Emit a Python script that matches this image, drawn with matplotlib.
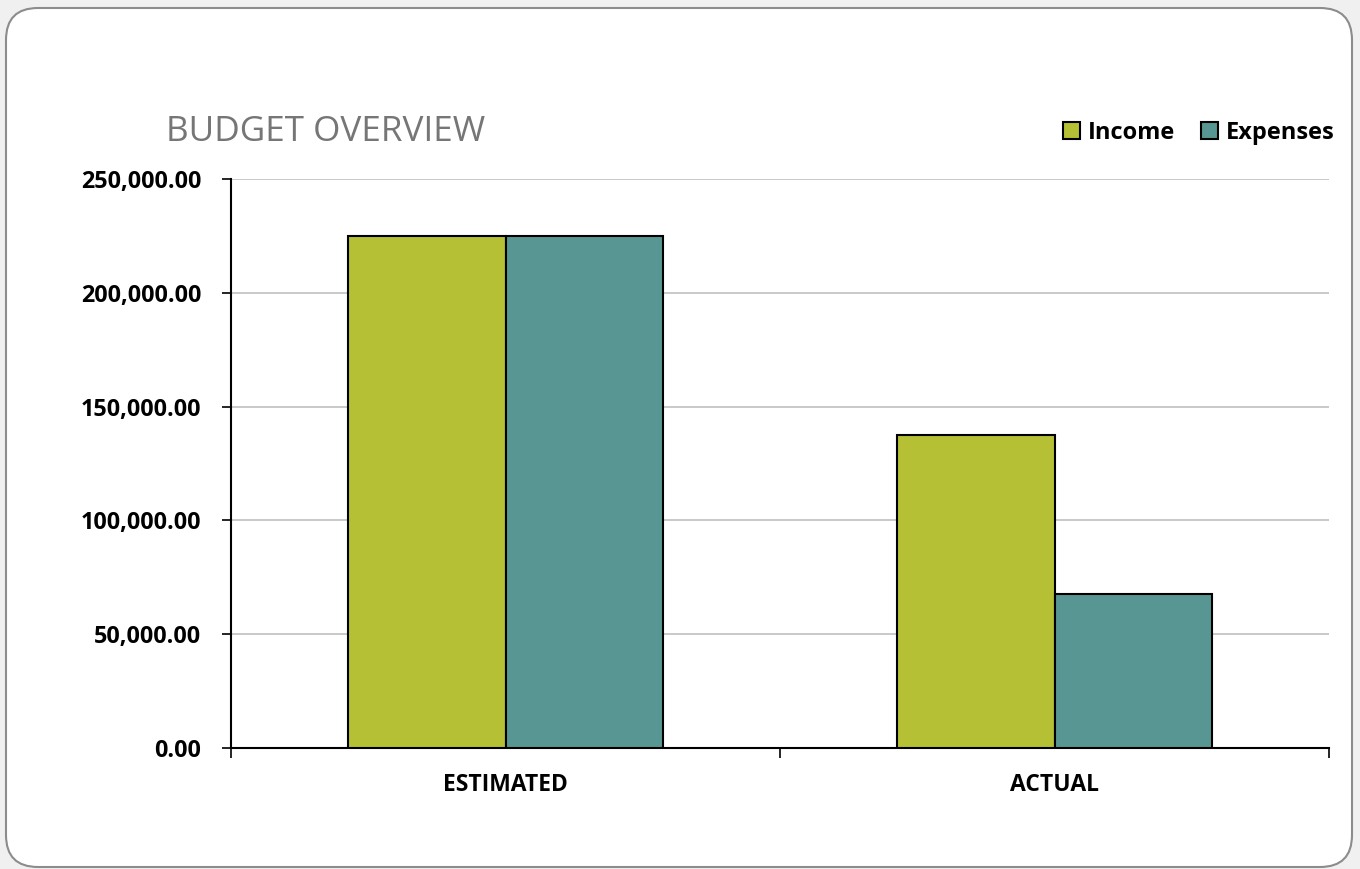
import matplotlib.pyplot as plt
import numpy as np
from matplotlib.patches import FancyBboxPatch, Rectangle
from matplotlib.ticker import FuncFormatter

# data
categories = ["ESTIMATED", "ACTUAL"]
income = [225000, 137500]
expenses = [225000, 67500]
series_names = ["Income", "Expenses"]
colors = ["#b5c035", "#579692"]

plt.rcParams["font.family"] = ["Open Sans", "DejaVu Sans"]

fig = plt.figure(figsize=(13.6, 8.69), dpi=100)
fig.patch.set_facecolor("#f0f0f0")

# rounded frame, drawn in pixel units on a background axes
bg = fig.add_axes([0, 0, 1, 1], zorder=-1)
bg.set_xlim(0, 1360)
bg.set_ylim(869, 0)
bg.axis("off")
frame = FancyBboxPatch((6, 8), 1346, 859,
                       boxstyle="round,pad=0,rounding_size=32",
                       facecolor="white", edgecolor="#8c8c8c", linewidth=1.5)
bg.add_patch(frame)

ax = fig.add_axes([231 / 1360, 1 - 748 / 869, 1098 / 1360, 569 / 869])
ax.set_facecolor("none")

x = np.arange(len(categories))
w = 0.286
ax.bar(x - w / 2, income, w, color=colors[0], edgecolor="black", linewidth=1.5, zorder=3)
ax.bar(x + w / 2, expenses, w, color=colors[1], edgecolor="black", linewidth=1.5, zorder=3)

ax.set_xlim(-0.5, 1.5)
ax.set_ylim(0, 250000)
ax.set_yticks(np.arange(0, 250001, 50000))
ax.yaxis.set_major_formatter(FuncFormatter(lambda v, p: f"{v:,.2f}"))
ax.grid(axis="y", color="#c0c0c0", linewidth=1.2, zorder=0)
ax.set_axisbelow(True)

ax.set_xticks([-0.5, 0.5, 1.5])
ax.set_xticklabels([])
ax.set_xticks(x, minor=True)
ax.set_xticklabels(categories, minor=True, fontsize=16.5, fontweight="bold")
ax.tick_params(axis="x", which="minor", length=0, pad=18)
ax.tick_params(axis="x", which="major", length=7, width=1.2, direction="out")
ax.tick_params(axis="y", length=6.5, width=1.2, labelsize=16.8, pad=15)
for lbl in ax.get_yticklabels():
    lbl.set_fontweight("bold")

for s in ["top", "right"]:
    ax.spines[s].set_visible(False)
for s in ["left", "bottom"]:
    ax.spines[s].set_linewidth(1.5)
    ax.spines[s].set_color("black")

fig.text(166 / 1360, 1 - 132 / 869, "BUDGET OVERVIEW", fontsize=25.3, color="#767676",
         va="center", ha="left")

# legend
handles = [Rectangle((0, 0), 1, 1, facecolor=c, edgecolor="black", linewidth=1.5) for c in colors]
leg = fig.legend(handles, series_names, loc="center right",
                 bbox_to_anchor=(1344 / 1360, 1 - 133 / 869), ncol=2, frameon=False,
                 prop={"size": 17, "weight": "bold"}, handlelength=0.7, handleheight=0.7,
                 handletextpad=0.35, columnspacing=1.1, borderaxespad=0)

fig.savefig("out.png", dpi=100, facecolor=fig.get_facecolor())
